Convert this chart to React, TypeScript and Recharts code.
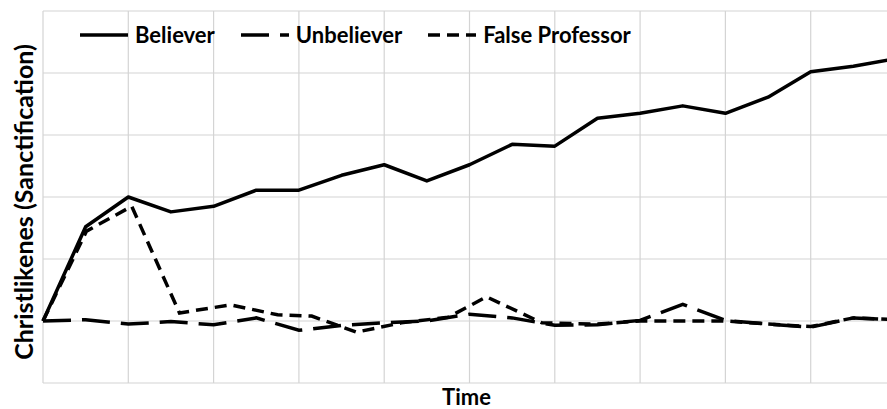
import React from "react";
import { CartesianGrid, Label, Legend, Line, LineChart, XAxis, YAxis } from "recharts";

// time steps (category index) shared by Believer / Unbeliever
const time = [0, 1, 2, 3, 4, 5, 6, 7, 8, 9, 10, 11, 12, 13, 14, 15, 16, 17, 18, 19, 20];
const believer = [0, 15.2, 20, 17.6, 18.5, 21.1, 21.1, 23.5, 25.2, 22.6, 25.2, 28.5, 28.2, 32.7, 33.5, 34.7, 33.5, 36.1, 40.2, 41.1, 42.3];
const unbeliever = [0, 0.2, -0.5, -0.1, -0.6, 0.5, -1.5, -0.7, -0.3, 0, 1.1, 0.5, -0.7, -0.6, 0.1, 2.7, 0.1, -0.5, -1.0, 0.5, 0.2];

// false professor points sit slightly off the grid
const falseTime = [0, 1.02, 2.08, 3.2, 4.4, 5.5, 6.3, 7.35, 8.4, 9.5, 10.4, 11.7, 13, 14, 15, 16, 17, 18, 19, 20];
const falseProfessor = [0, 14.5, 18.5, 1.3, 2.6, 1.0, 0.8, -1.8, -0.3, 0.6, 3.9, -0.3, -0.5, 0, 0, 0, -0.5, -0.9, 0.5, 0.2];

const xTicks = [0, 2, 4, 6, 8, 10, 12, 14, 16, 18, 20];
const yTicks = [-10, 0, 10, 20, 30, 40, 50];
const legendOrder = ["Believer", "Unbeliever", "False Professor"];

const mainData = time.map((t, i) => ({ t, believer: believer[i], unbeliever: unbeliever[i] }));
const falseData = falseTime.map((t, i) => ({ t, falseProfessor: falseProfessor[i] }));

const FONT = "Lato, 'Open Sans', sans-serif";
const dashes: Record<string, string | undefined> = {
  Believer: undefined,
  Unbeliever: "28 11",
  "False Professor": "12 7",
};

// axes only drive the gridlines, no tick labels
const NoTick = () => <g />;

function LegendContent(props: any) {
  const items = [...(props.payload || [])].sort(
    (a: any, b: any) => legendOrder.indexOf(a.value) - legendOrder.indexOf(b.value)
  );
  return (
    <div style={{ display: "flex", alignItems: "center", fontFamily: FONT, fontWeight: 700, fontSize: 22, color: "#000", whiteSpace: "nowrap" }}>
      {items.map((it: any) => (
        <div key={it.value} style={{ display: "flex", alignItems: "center", marginRight: 26 }}>
          <svg width={48} height={10}>
            <line x1={0} y1={5} x2={48} y2={5} stroke="#000" strokeWidth={3.5} strokeDasharray={dashes[it.value]} />
          </svg>
          <span style={{ marginLeft: 7 }}>{it.value}</span>
        </div>
      ))}
    </div>
  );
}

function YTitle(props: any) {
  const vb = props.viewBox || {};
  const x = vb.x + 24;
  const y = vb.y + vb.height / 2 + 5;
  return (
    <text
      x={x}
      y={y}
      transform={`rotate(-90, ${x}, ${y})`}
      textAnchor="middle"
      dy="0.36em"
      style={{ fontFamily: FONT, fontWeight: 700, fontSize: 25, fill: "#000" }}
    >
      {props.value}
    </text>
  );
}

export default function App() {
  return (
    <div style={{ position: "absolute", left: 0, top: 0, width: 887, height: 409, overflow: "hidden", background: "#fff" }}>
      <LineChart width={896} height={409} data={mainData} margin={{ top: 11, right: 0, left: 0, bottom: 0 }}>
        <CartesianGrid stroke="#d4d4d4" strokeWidth={1.2} />
        <XAxis dataKey="t" type="number" domain={[0, 20]} ticks={xTicks} tick={NoTick} axisLine={false} tickLine={false} height={26}>
          <Label value="Time" position="insideBottom" offset={4} dx={-3} style={{ fontFamily: FONT, fontWeight: 700, fontSize: 22, fill: "#000" }} />
        </XAxis>
        <YAxis type="number" domain={[-10, 50]} ticks={yTicks} tick={NoTick} axisLine={false} tickLine={false} width={43}>
          <Label value="Christlikenes (Sanctification)" content={<YTitle />} />
        </YAxis>
        <Legend
          layout="horizontal"
          verticalAlign="middle"
          align="center"
          content={<LegendContent />}
          wrapperStyle={{ top: 21, left: 80, width: "auto", height: "auto" }}
        />
        <Line name="Believer" dataKey="believer" type="linear" stroke="#000" strokeWidth={3.5} strokeLinejoin="round" dot={false} isAnimationActive={false} />
        <Line name="Unbeliever" dataKey="unbeliever" type="linear" stroke="#000" strokeWidth={3.5} strokeDasharray="28 11" dot={false} isAnimationActive={false} />
        <Line name="False Professor" data={falseData} dataKey="falseProfessor" type="linear" stroke="#000" strokeWidth={3.5} strokeDasharray="12 7" dot={false} isAnimationActive={false} />
      </LineChart>
    </div>
  );
}
